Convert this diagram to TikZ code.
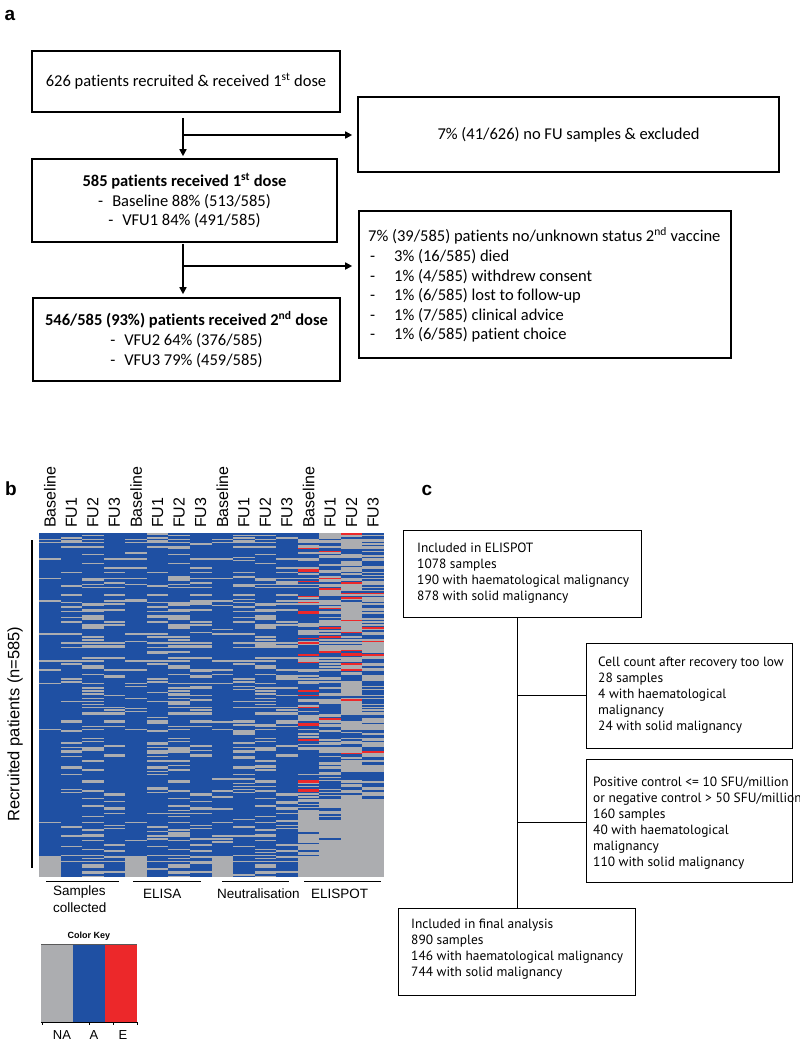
\documentclass[tikz,border=0pt]{standalone}
\usepackage{fontspec}
\setmainfont{Carlito}[Ligatures=NoCommon]
\newfontfamily\arialf{Liberation Sans}
\newfontfamily\myriadf{PT Sans}
\usetikzlibrary{arrows.meta}
\definecolor{hblue}{RGB}{31,80,163}
\definecolor{hgray}{RGB}{172,173,176}
\definecolor{hred}{RGB}{236,40,42}
\begin{document}
\begin{tikzpicture}[x=1pt,y=-1pt,
  abox/.style={draw, line width=1.6pt, inner sep=0pt, font=\fontsize{16.5}{19.8}\selectfont, align=center},
  atxt/.style={inner sep=0pt, font=\fontsize{16.5}{19.6}\selectfont, align=left},
  flow/.style={line width=1.6pt, -{Triangle[length=7pt,width=7pt]}},
  cbox/.style={draw, line width=1pt, inner sep=0pt},
  ctxt/.style={inner sep=0pt, font=\myriadf\fontsize{13.4}{16}\selectfont, align=left},
  cline/.style={line width=1pt},
  plabel/.style={inner sep=0pt, font=\arialf\bfseries\fontsize{19}{20}\selectfont},
  collab/.style={inner sep=0pt, font=\arialf\fontsize{16}{18}\selectfont},
  grplab/.style={inner sep=0pt, font=\arialf\fontsize{13.5}{16.5}\selectfont, align=left},
]
\useasboundingbox (0,0) rectangle (800,1045);

% ---------------- panel a ----------------
\node[plabel] (la) at (10,15) {a};
\node[abox, minimum width=308pt, minimum height=61pt] (a1) at (186,81.5)
  {626 patients recruited \& received 1\textsuperscript{st} dose};
\node[abox, minimum width=421pt, minimum height=75pt] (ax1) at (568.5,134.5)
  {7\% (41/626) no FU samples \& excluded};
\node[abox, minimum width=305pt, minimum height=83pt] (a2) at (184.5,200.5)
  {\textbf{585 patients received 1\textsuperscript{st} dose}\\
   -\hspace{9pt}Baseline 88\% (513/585)\\
   -\hspace{9pt}VFU1 84\% (491/585)};
\node[abox, minimum width=307pt, minimum height=83pt] (a3) at (186.5,339.5)
  {\textbf{546/585 (93\%) patients received 2\textsuperscript{nd} dose}\\
   -\hspace{9pt}VFU2 64\% (376/585)\\
   -\hspace{9pt}VFU3 79\% (459/585)};
\node[abox, minimum width=372pt, minimum height=147pt] (ax2) at (545,284.5) {};
\node[atxt, anchor=west] (ax2t) at (368,285)
  {7\% (39/585) patients no/unknown status 2\textsuperscript{nd} vaccine\\
   \makebox[26pt][l]{\hspace{2pt}-}3\% (16/585) died\\
   \makebox[26pt][l]{\hspace{2pt}-}1\% (4/585) withdrew consent\\
   \makebox[26pt][l]{\hspace{2pt}-}1\% (6/585) lost to follow-up\\
   \makebox[26pt][l]{\hspace{2pt}-}1\% (7/585) clinical advice\\
   \makebox[26pt][l]{\hspace{2pt}-}1\% (6/585) patient choice};

\coordinate (v1) at (183,135);
\coordinate (v2) at (183,266);
\draw[flow, shorten <=5pt, shorten >=2pt] (a1.south -| v1) -- (a2.north -| v1);
\draw[flow, shorten >=5pt] (v1) -- (ax1.west |- v1);
\draw[flow, shorten <=1pt, shorten >=3pt] (a2.south -| v2) -- (a3.north -| v2);
\draw[flow, shorten >=6pt] (v2) -- (ax2.west |- v2);

% ---------------- panel b ----------------
\node[plabel] (lb) at (11,489) {b};
\fill[hblue] (39,533) rectangle (384,877);
\pgfmathsetseed{4242}
\pgfmathsetmacro{\rh}{344/230}
\foreach \r in {0,...,229}{
  \pgfmathsetmacro{\ya}{533+\rh*\r}
  \foreach \t/\p/\q/\e in {0/7/20/24, 1/15/8/28, 2/30/14/40, 3/20/5/38}{
    \pgfmathsetmacro{\pp}{(\t==0)*(\r>215)*90 + \p}
    \pgfmathsetmacro{\ep}{(\r>178)*62 + \e}
    \pgfmathsetmacro{\xa}{39+21.5625*\t}
    \pgfmathrandominteger{\rnu}{0}{99}
    \ifdim \rnu pt < \pp pt
      \foreach \g in {0,4,8,12}{
        \fill[hgray] ({\xa+21.5625*\g},\ya) rectangle ++(21.5625,\rh);
      }
    \else
      \foreach \g in {4,8}{
        \pgfmathrandominteger{\rnz}{0}{99}
        \ifdim \rnz pt < 5pt
          \fill[hgray] ({\xa+21.5625*\g},\ya) rectangle ++(21.5625,\rh);
        \fi
      }
      \pgfmathrandominteger{\rnv}{0}{99}
      \ifdim \rnv pt < \ep pt
        \fill[hgray] ({\xa+258.75},\ya) rectangle ++(21.5625,\rh);
      \else
        \pgfmathrandominteger{\rnw}{0}{99}
        \ifdim \rnw pt < \q pt
          \fill[hred] ({\xa+258.75},\ya) rectangle ++(21.5625,\rh);
        \fi
      \fi
    \fi
  }
}
\foreach \i/\lab in {0/Baseline,1/FU1,2/FU2,3/FU3,4/Baseline,5/FU1,6/FU2,7/FU3,
                     8/Baseline,9/FU1,10/FU2,11/FU3,12/Baseline,13/FU1,14/FU2,15/FU3}{
  \node[collab, rotate=90, anchor=west] (cl\i) at ({39+21.5625*(\i+0.5)},528) {\lab};
}
\draw[line width=1.2pt] (32,540) -- (32,868);
\node[collab, rotate=90, font=\arialf\fontsize{16.5}{18}\selectfont] (rp) at (15,724) {Recruited patients (n=585)};
\draw[line width=1pt] (46,881) -- (119,881);
\draw[line width=1pt] (133,881) -- (201,881);
\draw[line width=1pt] (222,881) -- (289,881);
\draw[line width=1pt] (304,881) -- (381,881);
\node[grplab, anchor=north west] (g1) at (53,886) {Samples\\collected};
\node[grplab, anchor=north west] (g2) at (143,889) {ELISA};
\node[grplab, anchor=north west] (g3) at (217,889) {Neutralisation};
\node[grplab, anchor=north west] (g4) at (311,889) {ELISPOT};

% colour key
\node[inner sep=0pt, font=\arialf\bfseries\fontsize{9}{10}\selectfont] (ck) at (89,936) {Color Key};
\fill[hgray] (41,944) rectangle (73,1022);
\fill[hblue] (73,944) rectangle (105,1022);
\fill[hred] (105,944) rectangle (137,1022);
\draw[line width=0.6pt, gray!70!black] (41,944) -- (137,944);
\draw[line width=0.8pt] (41,1022) -- (137,1022);
\foreach \xx in {42,89,113,137}{ \draw[line width=0.8pt] (\xx,1022) -- (\xx,1025); }
\node[inner sep=0pt, font=\arialf\fontsize{13}{14}\selectfont] (kna) at (62,1035) {NA};
\node[inner sep=0pt, font=\arialf\fontsize{13}{14}\selectfont] (ka) at (94,1035) {A};
\node[inner sep=0pt, font=\arialf\fontsize{13}{14}\selectfont] (ke) at (123,1035) {E};

% ---------------- panel c ----------------
\node[plabel] (lc) at (427,490) {c};
\node[cbox, minimum width=238pt, minimum height=87pt] (c1) at (522,573.5) {};
\node[ctxt, anchor=west] (c1t) at (417,573)
  {Included in ELISPOT\\1078 samples\\190 with haematological malignancy\\878 with solid malignancy};
\node[cbox, minimum width=206pt, minimum height=105pt] (c2) at (689,695.5) {};
\node[ctxt, anchor=west] (c2t) at (598,695)
  {Cell count after recovery too low\\28 samples\\4 with haematological\\malignancy\\24 with solid malignancy};
\node[cbox, minimum width=206pt, minimum height=123pt] (c3) at (689,820.5) {};
\node[ctxt, anchor=west] (c3t) at (593,823)
  {Positive control <= 10 SFU/million\\or negative control > 50 SFU/million\\160 samples\\40 with haematological\\malignancy\\110 with solid malignancy};
\node[cbox, minimum width=237pt, minimum height=87pt] (c4) at (516.5,951.5) {};
\node[ctxt, anchor=west] (c4t) at (411,949)
  {Included in final analysis\\890 samples\\146 with haematological malignancy\\744 with solid malignancy};
\coordinate (cv) at (517,696);
\draw[cline] (c1.south -| cv) -- (c4.north -| cv);
\draw[cline] (c2.west -| cv) -- (c2.west);
\draw[cline] (cv |- 0,822) -- (c3.west |- 0,822);
\end{tikzpicture}
\end{document}
